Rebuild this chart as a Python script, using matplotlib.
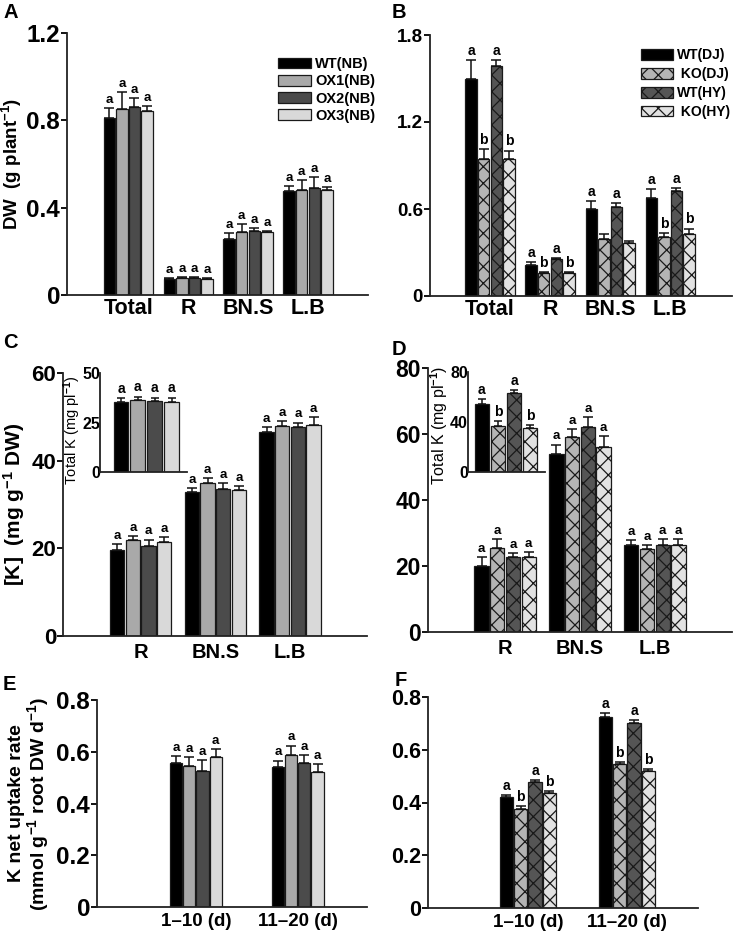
import numpy as np
import matplotlib
matplotlib.use('Agg')
import matplotlib.pyplot as plt
from matplotlib.patches import Patch

plt.rcParams['font.family'] = ['Liberation Sans', 'DejaVu Sans']
plt.rcParams['font.weight'] = 'bold'
plt.rcParams['mathtext.fontset'] = 'custom'
plt.rcParams['mathtext.rm'] = 'Liberation Sans:bold'
plt.rcParams['mathtext.default'] = 'rm'
plt.rcParams['hatch.linewidth'] = 0.9

# ---- data ----
# A: DW, overexpression lines
a_groups = ['Total', 'R', 'BN.S', 'L.B']
a_names = ['WT(NB)', 'OX1(NB)', 'OX2(NB)', 'OX3(NB)']
a_vals = [[0.81, 0.075, 0.255, 0.475],
          [0.85, 0.078, 0.29, 0.48],
          [0.86, 0.078, 0.295, 0.49],
          [0.845, 0.075, 0.29, 0.48]]
a_errs = [[0.045, 0.004, 0.03, 0.025],
          [0.08, 0.006, 0.035, 0.045],
          [0.04, 0.004, 0.01, 0.05],
          [0.02, 0.003, 0.005, 0.015]]
a_let = [['a', 'a', 'a', 'a']] * 4

# B: DW, knockout lines
b_groups = ['Total', 'R', 'BN.S', 'L.B']
b_names = ['WT(DJ)', ' KO(DJ)', 'WT(HY)', ' KO(HY)']
b_vals = [[1.497, 0.214, 0.598, 0.676],
          [0.947, 0.156, 0.395, 0.407],
          [1.589, 0.253, 0.616, 0.724],
          [0.943, 0.156, 0.363, 0.425]]
b_errs = [[0.13, 0.023, 0.06, 0.062],
          [0.065, 0.012, 0.03, 0.025],
          [0.04, 0.007, 0.023, 0.018],
          [0.06, 0.01, 0.016, 0.04]]
b_let = [['a', 'a', 'a', 'a'],
         ['b', 'b', '', 'b'],
         ['a', 'a', 'a', 'a'],
         ['b', 'b', '', 'b']]

# C: [K], overexpression lines
c_groups = ['R', 'BN.S', 'L.B']
c_vals = [[19.6, 32.9, 46.5],
          [21.8, 34.8, 48.0],
          [20.6, 33.6, 47.6],
          [21.4, 33.3, 48.2]]
c_errs = [[1.4, 0.9, 1.1],
          [1.1, 1.3, 1.1],
          [1.4, 1.2, 1.1],
          [1.2, 0.9, 1.7]]
c_let = [['a', 'a', 'a']] * 4
ci_vals = [35.6, 36.4, 36.1, 35.6]
ci_errs = [1.7, 1.7, 1.5, 2.0]
ci_let = ['a', 'a', 'a', 'a']

# D: [K], knockout lines
d_groups = ['R', 'BN.S', 'L.B']
d_vals = [[20.1, 54.0, 26.3],
          [25.5, 59.0, 25.2],
          [22.6, 62.0, 26.3],
          [22.8, 56.2, 26.5]]
d_errs = [[2.7, 2.8, 1.7],
          [2.6, 2.6, 1.1],
          [1.2, 3.0, 1.8],
          [1.3, 3.1, 1.6]]
d_let = [['a', 'a', 'a']] * 4
di_vals = [54.0, 37.1, 62.8, 35.5]
di_errs = [4.0, 3.7, 2.6, 2.1]
di_let = ['a', 'b', 'a', 'b']

# E / F: K net uptake rate
ef_groups = ['1–10 (d)', '11–20 (d)']
e_vals = [[0.556, 0.540],
          [0.543, 0.588],
          [0.527, 0.556],
          [0.579, 0.523]]
e_errs = [[0.026, 0.026],
          [0.035, 0.036],
          [0.041, 0.030],
          [0.032, 0.028]]
e_let = [['a', 'a']] * 4
f_vals = [[0.421, 0.723],
          [0.377, 0.546],
          [0.478, 0.702],
          [0.436, 0.518]]
f_errs = [[0.009, 0.017],
          [0.009, 0.008],
          [0.006, 0.009],
          [0.006, 0.009]]
f_let = [['a', 'a'], ['b', 'b'], ['a', 'a'], ['b', 'b']]

ox_colors = ['#000000', '#a9a9a9', '#4b4b4b', '#d9d9d9']
ox_hatch = [None, None, None, None]
ko_colors = ['#000000', '#b4b4b4', '#555555', '#e2e2e2']
ko_hatch = [None, 'xx', 'xx', 'xx']

W, H = 738, 938
fig = plt.figure(figsize=(W / 100, H / 100), dpi=100)


def add_ax(left, right, top, bottom):
    return fig.add_axes([left / W, 1 - bottom / H, (right - left) / W, (bottom - top) / H])


def style(ax, ticks, ticklabels, size):
    for s in ['top', 'right']:
        ax.spines[s].set_visible(False)
    for s in ['left', 'bottom']:
        ax.spines[s].set_linewidth(1.3)
        ax.spines[s].set_color('#222222')
    ax.set_yticks(ticks)
    ax.set_yticklabels(ticklabels, fontsize=size, fontweight='bold')
    ax.tick_params(axis='y', length=4, width=1.3, pad=1)
    ax.set_ylim(ticks[0], ticks[-1])


def bars(ax, vals, errs, lets, colors, hatches, step, width, lsize, xsize=None, groups=None, pad=2):
    x = np.arange(len(vals[0]))
    n = len(vals)
    for i in range(n):
        pos = x + (i - (n - 1) / 2) * step
        ax.bar(pos, vals[i], width, color=colors[i], edgecolor='#1a1a1a', linewidth=0.9,
               hatch=hatches[i], zorder=2)
        ax.errorbar(pos, vals[i], yerr=[np.zeros(len(pos)), errs[i]], fmt='none', ecolor='#111111',
                    elinewidth=1.1, capsize=3.5, capthick=1.1, zorder=3)
        for p, v, e, l in zip(pos, vals[i], errs[i], lets[i]):
            if l:
                ax.annotate(l, (p, v + e), xytext=(0, 1.5), textcoords='offset points',
                            ha='center', va='bottom', fontsize=lsize, fontweight='bold')
    if groups is not None:
        ax.set_xticks(x)
        ax.set_xticklabels(groups, fontsize=xsize, fontweight='bold')
        ax.tick_params(axis='x', length=0, pad=pad)
    else:
        ax.set_xticks([])


def inset_bars(ax, vals, errs, lets, colors, hatches, width):
    x = np.arange(len(vals))
    for i in range(len(vals)):
        ax.bar(x[i], vals[i], width, color=colors[i], edgecolor='#1a1a1a', linewidth=0.9,
               hatch=hatches[i], zorder=2)
    ax.errorbar(x, vals, yerr=[np.zeros(len(x)), errs], fmt='none', ecolor='#111111',
                elinewidth=1.1, capsize=3, capthick=1.1, zorder=3)
    for p, v, e, l in zip(x, vals, errs, lets):
        ax.annotate(l, (p, v + e), xytext=(0, 1.5), textcoords='offset points',
                    ha='center', va='bottom', fontsize=10, fontweight='bold')
    ax.set_xticks([])


# ---- panel A ----
axA = add_ax(67, 368, 33, 295)
bars(axA, a_vals, a_errs, a_let, ox_colors, ox_hatch, 0.21, 0.19, 9.5, 15.5, a_groups, pad=2)
axA.set_xlim(-1.02, 4.0)
style(axA, [0, 0.4, 0.8, 1.2], ['0', '0.4', '0.8', '1.2'], 17.5)
axA.set_ylabel('DW  (g plant$^{-1}$)', fontsize=13.5, fontweight='bold', labelpad=2)
axA.legend(handles=[Patch(facecolor=c, edgecolor='#1a1a1a', linewidth=0.9) for c in ox_colors],
           labels=a_names, loc='upper left', bbox_to_anchor=(0.68, 0.93), frameon=False,
           handlelength=2.3, handleheight=0.75, handletextpad=0.3,
           labelspacing=0.22, borderaxespad=0, prop={'weight': 'bold', 'size': 10.5})

# ---- panel B ----
axB = add_ax(430, 732, 35, 296)
bars(axB, b_vals, b_errs, b_let, ko_colors, ko_hatch, 0.21, 0.19, 10, 15.5, b_groups, pad=2)
axB.set_xlim(-1.0, 4.03)
style(axB, [0, 0.6, 1.2, 1.8], ['0', '0.6', '1.2', '1.8'], 13.5)
axB.legend(handles=[Patch(facecolor=c, edgecolor='#1a1a1a', linewidth=0.9, hatch=h)
                    for c, h in zip(ko_colors, ko_hatch)],
           labels=b_names, loc='upper left', bbox_to_anchor=(0.68, 0.97), frameon=False,
           handlelength=2.3, handleheight=0.8, handletextpad=0.3,
           labelspacing=0.35, borderaxespad=0, prop={'weight': 'bold', 'size': 10})

# ---- panel C ----
axC = add_ax(63, 367, 373, 636)
bars(axC, c_vals, c_errs, c_let, ox_colors, ox_hatch, 0.21, 0.19, 9.5, 14.5, c_groups, pad=5)
axC.set_xlim(-1.04, 3.03)
style(axC, [0, 20, 40, 60], ['0', '20', '40', '60'], 16)
axC.set_ylabel('[K]  (mg g$^{-1}$ DW)', fontsize=15, fontweight='bold', labelpad=3)

axCi = add_ax(100, 187, 373, 472)
inset_bars(axCi, ci_vals, ci_errs, ci_let, ox_colors, ox_hatch, 0.88)
axCi.set_xlim(-1.24, 3.9)
style(axCi, [0, 25, 50], ['0', '25', '50'], 11.5)
axCi.tick_params(axis='y', length=0, pad=0)
axCi.set_ylabel('Total K (mg pl$^{-1}$)', fontsize=10.5, fontweight='normal')
axCi.yaxis.set_label_coords(-0.19, 0.42)

# ---- panel D ----
axD = add_ax(428, 732, 368, 632)
bars(axD, d_vals, d_errs, d_let, ko_colors, ko_hatch, 0.21, 0.19, 9.5, 14.5, d_groups, pad=5)
axD.set_xlim(-1.03, 3.03)
style(axD, [0, 20, 40, 60, 80], ['0', '20', '40', '60', '80'], 16.5)

axDi = add_ax(468, 545, 372, 472)
inset_bars(axDi, di_vals, di_errs, di_let, ko_colors, ko_hatch, 0.85)
axDi.set_xlim(-0.87, 3.94)
style(axDi, [0, 40, 80], ['0', '40', '80'], 11.5)
axDi.tick_params(axis='y', length=0, pad=0)
axDi.set_ylabel('Total K (mg pl$^{-1}$)', fontsize=11.5, fontweight='normal')
axDi.yaxis.set_label_coords(-0.23, 0.47)

# ---- panel E ----
axE = add_ax(97, 367, 700, 907)
bars(axE, e_vals, e_errs, e_let, ox_colors, ox_hatch, 0.13, 0.12, 9.5, 13.5, ef_groups, pad=4)
axE.set_xlim(-0.97, 1.68)
style(axE, [0, 0.2, 0.4, 0.6, 0.8], ['0', '0.2', '0.4', '0.6', '0.8'], 17.5)
axE.set_ylabel('K net uptake rate\n(mmol g$^{-1}$ root DW d$^{-1}$)', fontsize=14,
               fontweight='bold', labelpad=4, linespacing=1.0)

# ---- panel F ----
axF = add_ax(428, 698, 697, 908)
bars(axF, f_vals, f_errs, f_let, ko_colors, ko_hatch, 0.145, 0.135, 10, 13.5, ef_groups, pad=4)
axF.set_xlim(-1.01, 1.72)
style(axF, [0, 0.2, 0.4, 0.6, 0.8], ['0', '0.2', '0.4', '0.6', '0.8'], 15.5)

# panel letters
for lab, px, py in [('A', 3, 3), ('B', 392, 3), ('C', 3, 333), ('D', 392, 340),
                    ('E', 3, 675), ('F', 395, 671)]:
    fig.text(px / W, 1 - py / H, lab, fontsize=14.5, fontweight='bold', ha='left', va='top')

fig.savefig('out.png', dpi=100)
